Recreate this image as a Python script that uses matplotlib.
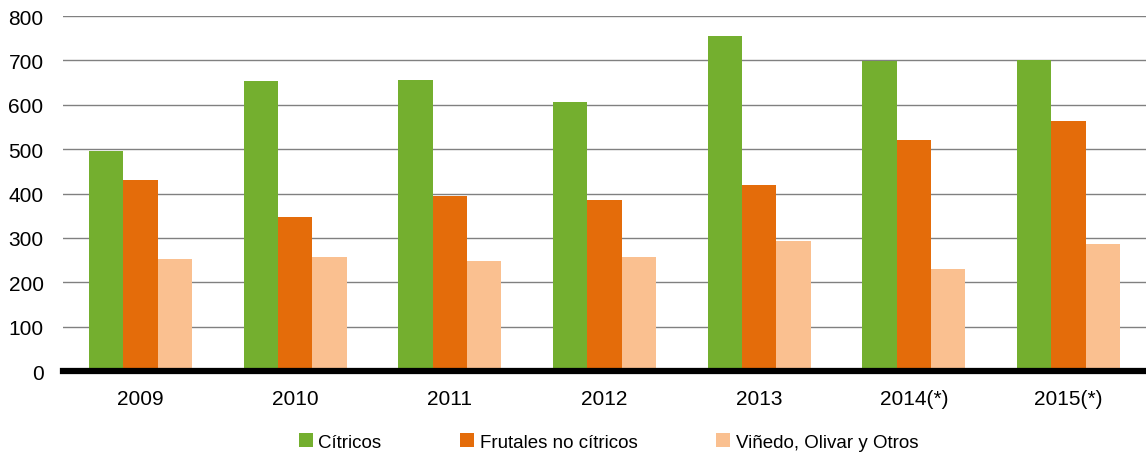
import matplotlib
matplotlib.use("Agg")
import matplotlib.pyplot as plt
import numpy as np

plt.rcParams['font.family'] = ['Liberation Sans', 'DejaVu Sans']

years = ["2009", "2010", "2011", "2012", "2013", "2014(*)", "2015(*)"]
citricos = [495, 653, 656, 607, 755, 699, 701]
frutales = [430, 348, 394, 385, 419, 521, 563]
vinedo = [252, 257, 248, 257, 294, 230, 286]

series = ["Cítricos", "Frutales no cítricos", "Viñedo, Olivar y Otros"]
colors = ["#74AF2F", "#E46C0A", "#FAC090"]

fig = plt.figure(figsize=(11.46, 4.6), dpi=100)
ax = fig.add_axes([0.055, 0.191, 0.945, 0.772])

x = np.arange(len(years))
w = 0.222
for i, (vals, name, c) in enumerate(zip([citricos, frutales, vinedo], series, colors)):
    ax.bar(x + (i - 1) * w, vals, w, color=c, label=name, zorder=3)

ax.set_xlim(-0.5, len(years) - 0.5)
ax.set_ylim(0, 800)
ax.set_yticks(range(0, 801, 100))
ax.set_xticks(x)
ax.set_xticklabels(years)
ax.tick_params(axis='both', length=0, labelsize=15)
ax.tick_params(axis='x', pad=13)
ax.tick_params(axis='y', pad=14)
ax.grid(axis='y', color='#808080', linewidth=1, zorder=0)
for s in ['top', 'right', 'left']:
    ax.spines[s].set_visible(False)
ax.spines['bottom'].set_linewidth(4.5)
ax.spines['bottom'].set_color('black')
ax.spines['bottom'].set_zorder(4)

fig.legend(loc='center', bbox_to_anchor=(0.531, 0.037), ncol=3, frameon=False,
           fontsize=13.5, handlelength=0.75, handleheight=0.75, handletextpad=0.3,
           columnspacing=4.2)

fig.savefig("out.png", dpi=100)
